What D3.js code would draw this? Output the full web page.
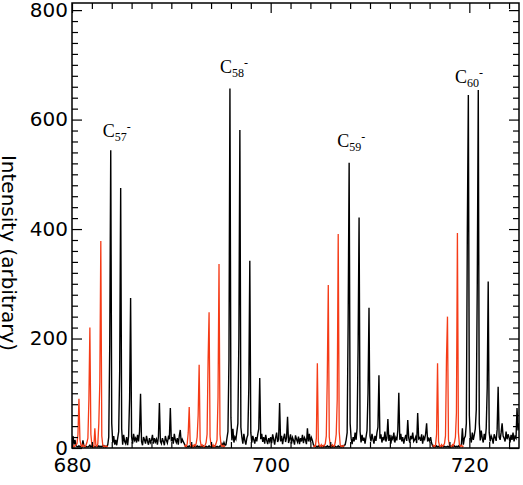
<!DOCTYPE html>
<html>
<head>
<meta charset="utf-8">
<script src="https://cdn.jsdelivr.net/npm/d3@7"></script>
<style>
	body { margin: 0; background: #fff; }
	svg { display: block; }
	.axis text { font-family: "DejaVu Sans", sans-serif; font-size: 20px; fill: #000; }
	.axis line { stroke: #000; stroke-width: 1.2; }
	.ion, .ion tspan { font-family: "Liberation Serif", "Times New Roman", serif; fill: #000; }
</style>
</head>
<body>
<div id="chart"></div>
<script>

// sampling of both spectra (mass units)
var massStep = 0.1;

// black spectrum, 680.0 -> 725.0, one row per mass unit
var blackStart = 680.0;
var blackIntensity = [
	8, 22, 6, 15, 4, 3, 2, 4, 2, 3,
	2, 14, 4, 2, 3, 2, 2, 3, 5, 2,
	4, 2, 3, 2, 2, 3, 2, 4, 2, 3,
	2, 5, 2, 4, 2, 3, 6, 20, 190, 544,
	45, 10, 22, 6, 15, 5, 18, 30, 140, 475,
	35, 6, 24, 12, 8, 20, 5, 22, 90, 274,
	20, 8, 26, 14, 18, 10, 24, 12, 30, 99,
	12, 5, 20, 15, 8, 22, 12, 6, 18, 10,
	14, 24, 8, 18, 11, 16, 6, 20, 82, 12,
	8, 18, 12, 5, 22, 14, 9, 20, 16, 73,
	12, 20, 8, 26, 15, 10, 18, 6, 22, 33,
	9, 16, 12, 8, 4, 2, 3, 2, 4, 2,
	2, 4, 2, 3, 2, 2, 4, 2, 3, 2,
	3, 2, 4, 2, 2, 3, 2, 2, 4, 2,
	2, 3, 2, 4, 2, 2, 3, 2, 2, 4,
	3, 8, 4, 10, 5, 6, 18, 30, 160, 657,
	55, 14, 35, 10, 20, 16, 30, 45, 200, 581,
	38, 20, 8, 26, 14, 6, 18, 24, 110, 342,
	28, 10, 22, 15, 8, 20, 12, 25, 35, 128,
	16, 26, 11, 20, 8, 24, 14, 7, 18, 12,
	20, 9, 25, 16, 6, 19, 28, 11, 16, 82,
	12, 22, 7, 18, 26, 11, 19, 57, 9, 16,
	25, 8, 19, 14, 6, 23, 16, 11, 21, 7,
	18, 12, 24, 9, 19, 15, 7, 36, 12, 26,
	11, 19, 14, 6, 4, 2, 3, 2, 4, 2,
	3, 2, 4, 2, 3, 2, 2, 4, 2, 3,
	2, 4, 2, 3, 2, 3, 2, 2, 4, 2,
	3, 2, 4, 2, 5, 6, 15, 28, 230, 521,
	45, 18, 7, 20, 12, 28, 15, 36, 180, 421,
	30, 10, 24, 13, 19, 8, 20, 32, 100, 256,
	22, 12, 26, 16, 8, 22, 13, 28, 38, 133,
	17, 25, 10, 20, 14, 30, 12, 18, 53, 13,
	24, 8, 20, 16, 28, 10, 19, 14, 32, 101,
	15, 26, 12, 20, 8, 17, 24, 13, 51, 18,
	10, 22, 16, 28, 12, 15, 20, 9, 64, 17,
	19, 13, 25, 8, 20, 16, 26, 45, 12, 17,
	13, 20, 9, 4, 2, 3, 2, 4, 2, 3,
	2, 3, 2, 4, 2, 3, 2, 2, 3, 2,
	4, 2, 3, 2, 2, 4, 2, 3, 2, 4,
	2, 4, 6, 36, 6, 18, 22, 45, 398, 645,
	60, 20, 10, 28, 15, 24, 35, 70, 301, 654,
	45, 14, 32, 18, 10, 26, 15, 36, 110, 304,
	28, 12, 22, 17, 8, 25, 19, 13, 34, 112,
	20, 15, 28, 45, 22, 18, 12, 30, 16, 25,
	19, 10, 24, 15, 28, 12, 21, 18, 73, 32,
	45
];

// red spectrum, only the four clusters
var redStarts = [680.0, 691.3, 704.3, 716.3];
var red57 = [
	3, 5, 2, 4, 6, 8, 25, 90, 15, 5,
	2, 6, 3, 2, 5, 10, 18, 88, 220, 25,
	6, 3, 2, 36, 5, 3, 8, 45, 120, 378,
	22, 5, 2, 4, 2, 3, 2
];
var red58 = [
	3, 5, 2, 8, 28, 75, 8,
	3, 5, 2, 6, 4, 8, 20, 60, 152, 15,
	4, 6, 3, 2, 5, 10, 25, 160, 248, 20,
	5, 3, 6, 2, 4, 8, 15, 93, 336, 25,
	6, 3, 5, 2, 4
];
var red59 = [
	2, 4, 3, 18, 155, 12, 4,
	3, 6, 2, 5, 4, 8, 22, 130, 298, 20,
	5, 2, 6, 4, 3, 10, 25, 88, 391, 30,
	6, 2, 4, 3, 5
];
var red60 = [
	3, 5, 2, 6, 25, 155, 12,
	4, 2, 6, 3, 5, 8, 22, 164, 240, 15,
	5, 3, 2, 6, 4, 10, 20, 64, 393, 28,
	6, 3, 5, 2, 4
];

// ion labels
var ionSizes = ["57", "58", "59", "60"];
var ionMass = [683.1, 694.9, 706.7, 718.55];
var ionHeight = [568, 685, 550, 667];

// axes
var xTicks = [680, 700, 720];
var yTicks = [0, 200, 400, 600, 800];
var xMinorStep = 2, yMinorStep = 20;
var xDomain = [680, 725], yDomain = [0, 813];

(function(){

	var w = 523, h = 485,
		pLeft = 72, pRight = 519, pTop = 3, pBottom = 448;

	var svg = d3.select("#chart").append("svg")
		.attr("width", w)
		.attr("height", h);

	var x = d3.scaleLinear().domain(xDomain).range([pLeft, pRight]);
	var y = d3.scaleLinear().domain(yDomain).range([pBottom, pTop]);

	svg.append("clipPath").attr("id", "plotclip")
		.append("rect")
		.attr("x", pLeft).attr("y", pTop)
		.attr("width", pRight - pLeft).attr("height", pBottom - pTop);

	var toPoints = function(start, values){
		return values.map(function(v, i){
			return { mass: start + i * massStep, value: v };
		});
	};

	var line = d3.line()
		.x(function(d){ return x(d.mass); })
		.y(function(d){ return y(d.value); });

	var plot = svg.append("g").attr("clip-path", "url(#plotclip)");

	plot.append("path")
		.attr("d", line(toPoints(blackStart, blackIntensity)))
		.style("fill", "none")
		.style("stroke", "#000")
		.style("stroke-width", 1.4);

	[red57, red58, red59, red60].forEach(function(seg, k){
		plot.append("path")
			.attr("d", line(toPoints(redStarts[k], seg)))
			.style("fill", "none")
			.style("stroke", "#f53b17")
			.style("stroke-width", 1.3);
	});

	// minor tick positions
	var xMinor = d3.range(xDomain[0], xDomain[1] + 0.01, xMinorStep).filter(function(v){ return xTicks.indexOf(v) < 0; });
	var yMinor = d3.range(0, 801, yMinorStep).filter(function(v){ return yTicks.indexOf(v) < 0; });

	var addAxis = function(axis, tx, ty, values, size, labels, pad){
		var g = svg.append("g")
			.attr("class", "axis")
			.attr("transform", "translate(" + tx + "," + ty + ")")
			.call(axis.tickValues(values).tickSize(size).tickPadding(pad || 0)
				.tickFormat(labels ? d3.format("d") : ""));
		g.select(".domain").remove();
		g.attr("font-size", null).attr("font-family", null);
		return g;
	};

	addAxis(d3.axisBottom(x), 0, pBottom, xTicks, -10, true, 10);
	addAxis(d3.axisBottom(x), 0, pBottom, xMinor, -6, false);
	addAxis(d3.axisTop(x), 0, pTop, xTicks, -10, false);
	addAxis(d3.axisTop(x), 0, pTop, xMinor, -6, false);
	addAxis(d3.axisLeft(y), pLeft, 0, yTicks, -10, true, 4);
	addAxis(d3.axisLeft(y), pLeft, 0, yMinor, -6, false);
	addAxis(d3.axisRight(y), pRight, 0, yTicks, -10, false);
	addAxis(d3.axisRight(y), pRight, 0, yMinor, -6, false);

	svg.append("rect")
		.attr("x", pLeft).attr("y", pTop)
		.attr("width", pRight - pLeft).attr("height", pBottom - pTop)
		.style("fill", "none")
		.style("stroke", "#000")
		.style("stroke-width", 1.5);

	// y title, reads top to bottom
	svg.append("text")
		.attr("transform", "translate(2,253) rotate(90)")
		.attr("text-anchor", "middle")
		.style("font-family", "'DejaVu Sans', sans-serif")
		.style("font-size", "20px")
		.text("Intensity (arbitrary)");

	// ion labels C_n^-
	ionSizes.forEach(function(n, i){
		var t = svg.append("text")
			.attr("class", "ion")
			.attr("x", x(ionMass[i]))
			.attr("y", y(ionHeight[i]))
			.style("font-size", "18px");
		t.append("tspan").text("C");
		t.append("tspan").attr("dy", 4).style("font-size", "12px").text(n);
		t.append("tspan").attr("dy", -10).style("font-size", "12px").text("-");
	});

})();

</script>
</body>
</html>
